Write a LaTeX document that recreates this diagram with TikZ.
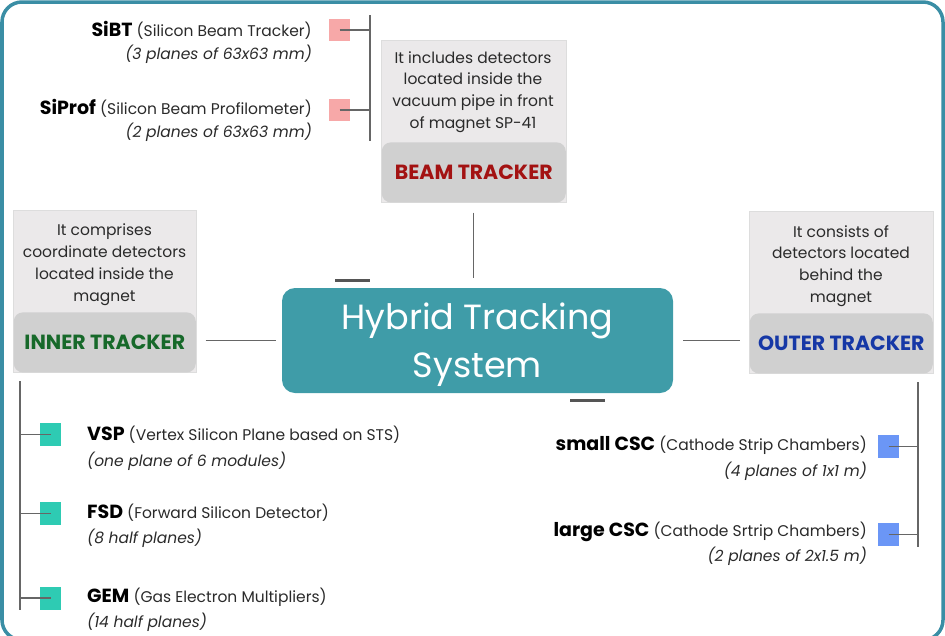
\documentclass[tikz,border=0pt]{standalone}
\usepackage{fontspec}
\setmainfont{Poppins}
\definecolor{framec}{HTML}{3A8EA5}
\definecolor{htsc}{HTML}{3F9CA8}
\definecolor{lightc}{HTML}{EBE9EA}
\definecolor{lightb}{HTML}{DDDDDD}
\definecolor{darkc}{HTML}{D0D0D0}
\definecolor{linec}{HTML}{666666}
\definecolor{barc}{HTML}{555555}
\definecolor{textc}{HTML}{2A2A2A}
\definecolor{redc}{HTML}{A31212}
\definecolor{greenc}{HTML}{17692A}
\definecolor{bluec}{HTML}{1638A6}
\definecolor{pinkc}{HTML}{F7A8A8}
\definecolor{tealc}{HTML}{2ECBB3}
\definecolor{bsqc}{HTML}{6B96F6}
\newcommand{\nmfont}{\fontsize{19}{21}\selectfont\bfseries}
\begin{document}
\begin{tikzpicture}[x=1pt,y=-1pt,
  conn/.style={draw=linec, line width=1.1pt},
  bar/.style={draw=barc, line width=3pt},
  lightbox/.style={draw=lightb, line width=0.6pt, fill=lightc, inner sep=0, anchor=north west},
  darkbox/.style={fill=darkc, rounded corners=9pt, inner sep=0, minimum height=60, font=\fontsize{20.5}{24}\selectfont\bfseries},
  desc/.style={text=textc, align=center, inner sep=0, font=\fontsize{15.5}{21.8}\selectfont},
  sq/.style={minimum width=21, minimum height=22, inner sep=0, draw=none},
  item/.style={inner sep=0, text=textc, font=\fontsize{15.5}{25}\selectfont}
]
\useasboundingbox (0,0) rectangle (945,635);
\begin{scope}
\clip (0,0) rectangle (945,635);
\draw[framec, line width=3.5pt, rounded corners=20pt] (2,2) rectangle (943,640);
\end{scope}

% central node
\node[fill=htsc, rounded corners=13pt, minimum width=391, minimum height=105, inner sep=0] (hts) at (477.5,340.5) {};
\node[text=white, align=center, inner sep=0, font=\fontsize{35}{48}\selectfont] (htst) at (477.5,345)
      {Hybrid Tracking\\System};
\draw[bar] (335,280) -- (370,280);
\draw[bar] (570,400) -- (605,400);

% beam tracker box
\node[lightbox, minimum width=185, minimum height=162] (bt) at (381,40) {};
\node[darkbox, minimum width=184, anchor=south, text=redc] (btl) at (bt.south) {BEAM TRACKER};
\node[desc] (btd) at (473,92) {It includes detectors\\located inside the\\vacuum pipe in front\\of magnet SP-41};

% inner tracker box
\node[lightbox, minimum width=183, minimum height=162] (it) at (13,210) {};
\node[darkbox, minimum width=182, anchor=south, text=greenc] (itl) at (it.south) {INNER TRACKER};
\node[desc] (itd) at (104.5,264.5) {It comprises\\coordinate detectors\\located inside the\\magnet};

% outer tracker box
\node[lightbox, minimum width=184, minimum height=162] (ot) at (749,211) {};
\node[darkbox, minimum width=183, anchor=south, text=bluec] (otl) at (ot.south) {OUTER TRACKER};
\node[desc] (otd) at (841,266) {It consists of\\detectors located\\behind the\\magnet};

% main connectors
\draw[conn, shorten <=10pt, shorten >=10pt] (bt.south) -- (hts.north -| bt.south);
\draw[conn, shorten <=9pt, shorten >=6pt] (it.east |- hts.west) -- (hts.west);
\draw[conn, shorten <=10pt, shorten >=9pt] (hts.east) -- (ot.west |- hts.east);

% beam tracker tree
\coordinate (btop) at (370,15);
\coordinate (bbot) at (370,141);
\draw[conn] (btop) -- (bbot);
\node[sq, fill=pinkc] (sibt) at (339.5,30) {};
\node[sq, fill=pinkc] (siprof) at (339.5,110) {};
\draw[conn] (sibt.center) -- (sibt.center -| btop);
\draw[conn] (siprof.center) -- (siprof.center -| btop);
\node[item, anchor=east] (sibtt) at (312,30) {\textcolor{black}{\nmfont SiBT} (Silicon Beam Tracker)};
\node[item, anchor=east] (sibtd) at (312,54) {\itshape (3 planes of 63x63 mm)};
\node[item, anchor=east] (siproft) at (312,108) {\textcolor{black}{\nmfont SiProf} (Silicon Beam Profilometer)};
\node[item, anchor=east] (siprofd) at (312,132) {\itshape (2 planes of 63x63 mm)};

% inner tracker tree
\coordinate (itop) at (20,381);
\coordinate (ibot) at (20,610);
\draw[conn] (itop) -- (ibot);
\node[sq, fill=tealc, minimum height=23] (vsp) at (50.5,434.5) {};
\node[sq, fill=tealc, minimum height=23] (fsd) at (50.5,513.5) {};
\node[sq, fill=tealc, minimum height=23] (gem) at (50.5,598) {};
\draw[conn] (vsp.center -| itop) -- (vsp.center);
\draw[conn] (fsd.center -| itop) -- (fsd.center);
\draw[conn] (gem.center -| itop) -- (gem.center);
\node[item, anchor=west] (vspt) at (87,435) {\textcolor{black}{\nmfont VSP} (Vertex Silicon Plane based on STS)};
\node[item, anchor=west] (vspd) at (87,461) {\itshape (one plane of 6 modules)};
\node[item, anchor=west] (fsdt) at (87,513) {\textcolor{black}{\nmfont FSD} (Forward Silicon Detector)};
\node[item, anchor=west] (fsdd) at (87,538) {\itshape (8 half planes)};
\node[item, anchor=west] (gemt) at (87,597) {\textcolor{black}{\nmfont GEM} (Gas Electron Multipliers)};
\node[item, anchor=west] (gemd) at (87,622) {\itshape (14 half planes)};

% outer tracker tree
\coordinate (otop) at (918,382);
\coordinate (obot) at (918,547);
\draw[conn] (otop) -- (obot);
\node[sq, fill=bsqc, minimum height=23] (scsc) at (888.5,446.5) {};
\node[sq, fill=bsqc, minimum height=23] (lcsc) at (888.5,534.5) {};
\draw[conn] (scsc.center) -- (scsc.center -| otop);
\draw[conn] (lcsc.center) -- (lcsc.center -| otop);
\node[item, anchor=east] (scsct) at (867,445) {\textcolor{black}{\nmfont small CSC} (Cathode Strip Chambers)};
\node[item, anchor=east] (scscd) at (867,471) {\itshape (4 planes of 1x1 m)};
\node[item, anchor=east] (lcsct) at (867,532) {\textcolor{black}{\nmfont large CSC} (Cathode Srtrip Chambers)};
\node[item, anchor=east] (lcscd) at (867,556) {\itshape (2 planes of 2x1.5 m)};
\end{tikzpicture}
\end{document}
